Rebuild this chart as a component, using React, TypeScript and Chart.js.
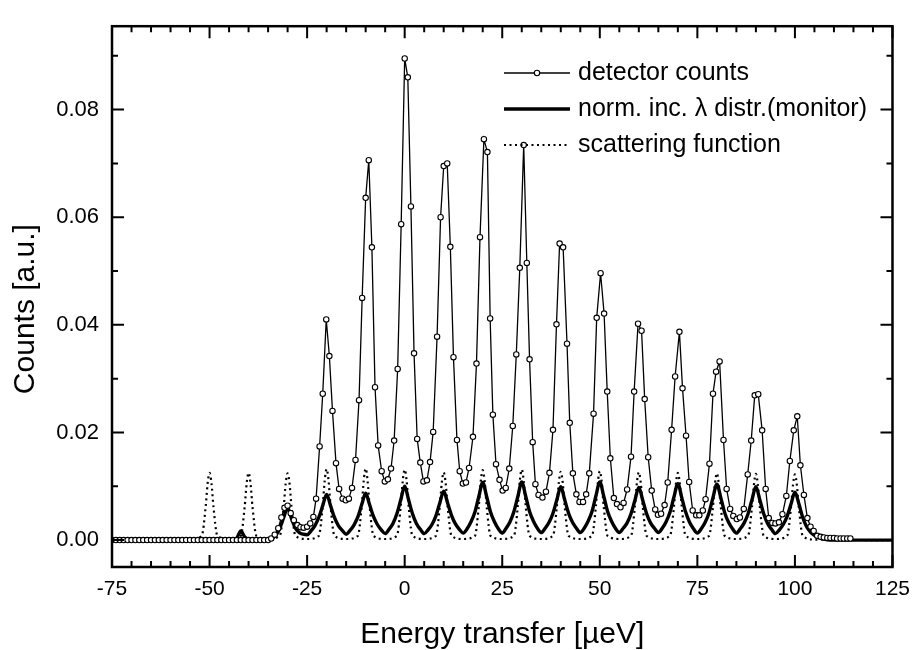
import React, { useEffect, useRef } from "react";
import { Chart, registerables } from "chart.js";

Chart.register(...registerables);

// ---------- axis settings ----------
const xRange: number[] = [-75, 125];
const yRange: number[] = [-0.005, 0.0955];
const xMajorStep = 25;
const xMinorStep = 5;
const yMajorStep = 0.02;
const yMinorStep = 0.01;

// ---------- texts ----------
const xAxisTitle = "Energy transfer [µeV]";
const yAxisTitle = "Counts [a.u.]";
const legendLabels: string[] = [
  "detector counts",
  "norm. inc. λ distr.(monitor)",
  "scattering function",
];

// ---------- series: [energy transfer (µeV), counts (a.u.)] ----------
const detectorCounts: [number, number][] = [
  [-75, 0], [-74, 0], [-73, 0], [-72, 0], [-71, 0], [-70, 0], [-69, 0], [-68, 0], [-67, 0], [-66, 0],
  [-65, 0], [-64, 0], [-63, 0], [-62, 0], [-61, 0], [-60, 0], [-59, 0], [-58, 0], [-57, 0], [-56, 0],
  [-55, 0], [-54, 0], [-53, 0], [-52, 0], [-51, 0], [-50, 0], [-49, 0], [-48, 0], [-47, 0], [-46, 0],
  [-45, 0], [-44, 0], [-43, 0], [-42, 0], [-41, 0], [-40, 0], [-39, 0], [-38, 0], [-37, 0], [-36, 0],
  [-35, 0], [-34.2, 0.0003], [-33.3, 0.001], [-32.4, 0.0022], [-31.6, 0.0042], [-30.8, 0.006],
  [-30.0, 0.0064], [-29.2, 0.005], [-28.4, 0.0037], [-27.5, 0.0028], [-26.7, 0.0024], [-25.9, 0.0023],
  [-25.0, 0.0025], [-24.2, 0.0031], [-23.4, 0.0043], [-22.7, 0.0077], [-21.8, 0.0174], [-21.0, 0.0272],
  [-20.1, 0.041], [-19.3, 0.0342], [-18.5, 0.024], [-17.6, 0.0143], [-16.8, 0.0095], [-15.9, 0.0077],
  [-15.1, 0.0074], [-14.3, 0.0077], [-13.5, 0.0097], [-12.6, 0.0149], [-11.7, 0.026], [-10.9, 0.045],
  [-10.0, 0.0636], [-9.2, 0.0706], [-8.4, 0.0544], [-7.6, 0.0284], [-6.8, 0.0176], [-5.9, 0.0128],
  [-5.1, 0.0109], [-4.3, 0.0113], [-3.5, 0.0133], [-2.7, 0.0185], [-1.8, 0.0318], [-0.9, 0.0587],
  [0.0, 0.0895], [0.8, 0.086], [1.6, 0.062], [2.4, 0.0347], [3.2, 0.0188], [4.0, 0.0144],
  [4.8, 0.0109], [5.7, 0.0111], [6.5, 0.0145], [7.3, 0.0201], [8.3, 0.0378], [9.2, 0.06],
  [10.0, 0.0695], [10.9, 0.07], [11.7, 0.0545], [12.5, 0.034], [13.4, 0.0186], [14.1, 0.0128],
  [14.9, 0.0105], [15.7, 0.0107], [16.5, 0.0134], [17.5, 0.0192], [18.4, 0.0328], [19.3, 0.0563],
  [20.3, 0.0745], [21.2, 0.0721], [21.9, 0.0412], [22.6, 0.0233], [23.4, 0.0141], [24.3, 0.0112],
  [25.1, 0.0092], [25.9, 0.0097], [26.8, 0.0133], [27.7, 0.0212], [28.6, 0.0345], [29.5, 0.0506],
  [30.5, 0.0734], [31.3, 0.0515], [32.0, 0.0336], [32.8, 0.0182], [33.5, 0.0104], [34.3, 0.0084],
  [35.3, 0.0079], [36.2, 0.009], [37.1, 0.0125], [38.0, 0.0205], [38.9, 0.0401], [39.7, 0.0551],
  [40.6, 0.0544], [41.6, 0.0365], [42.3, 0.0218], [43.1, 0.0124], [44.0, 0.0085], [44.8, 0.0071],
  [45.7, 0.0071], [46.5, 0.0085], [47.3, 0.0124], [48.4, 0.0235], [49.2, 0.0413], [50.2, 0.0496],
  [51.1, 0.0421], [51.9, 0.0276], [52.7, 0.0152], [53.6, 0.0078], [54.4, 0.0067], [55.3, 0.0061],
  [56.1, 0.0069], [57.0, 0.0094], [58.0, 0.0155], [58.8, 0.0276], [59.8, 0.0402], [60.7, 0.0389],
  [61.5, 0.0262], [62.4, 0.0154], [63.3, 0.0092], [64.2, 0.0057], [64.9, 0.0047], [65.7, 0.0049],
  [66.6, 0.0065], [67.4, 0.0107], [68.4, 0.0205], [69.3, 0.0304], [70.4, 0.0387], [71.2, 0.0282],
  [72.1, 0.0194], [72.9, 0.0108], [73.8, 0.0055], [74.7, 0.0046], [75.5, 0.0046], [76.4, 0.0055],
  [77.1, 0.0076], [78.1, 0.0142], [79.0, 0.0272], [79.8, 0.0313], [80.7, 0.0332], [81.7, 0.0186],
  [82.5, 0.0095], [83.4, 0.0058], [84.2, 0.0045], [85.1, 0.0039], [85.9, 0.0042], [86.9, 0.0058],
  [87.9, 0.0122], [88.8, 0.0185], [89.7, 0.0269], [90.6, 0.0271], [91.6, 0.0204], [92.5, 0.0095],
  [93.3, 0.0041], [94.2, 0.0032], [95.0, 0.0031], [95.9, 0.0033], [96.8, 0.0048], [97.8, 0.0082],
  [98.7, 0.0147], [99.7, 0.0204], [100.6, 0.023], [101.4, 0.0139], [102.3, 0.0084], [103.2, 0.0041],
  [104.0, 0.0025], [104.8, 0.0017], [105.7, 0.0008], [106.6, 0.0006], [107.4, 0.0005], [108.3, 0.0004],
  [109.1, 0.0004], [110.0, 0.0004], [110.8, 0.0003], [111.7, 0.0003], [112.5, 0.0003], [113.4, 0.0003],
  [114.2, 0.0003],
];

const monitorDistribution: [number, number][] = [
  [-75, 0], [-44, 0], [-43, 0.0004], [-42, 0.0017], [-41, 0.0006], [-40, 0.0001], [-39, 0], [-35, 0],
  [-34, 0.0003], [-33, 0.0009], [-32, 0.0022], [-31, 0.0042], [-30, 0.006], [-29, 0.004], [-28, 0.0022], [-27, 0.0014], [-26, 0.0011], [-25, 0.001],
  [-24, 0.0017], [-23, 0.0027], [-22, 0.0042], [-21, 0.0064], [-20, 0.0085], [-19, 0.0064], [-18, 0.0042], [-17, 0.0027], [-16, 0.0018], [-15, 0.0011],
  [-14, 0.0018], [-13, 0.0028], [-12, 0.0043], [-11, 0.0066], [-10, 0.0087], [-9, 0.0066], [-8, 0.0044], [-7, 0.0029], [-6, 0.0019], [-5, 0.0012],
  [-4, 0.002], [-3, 0.0031], [-2, 0.0049], [-1, 0.0075], [0, 0.01], [1, 0.0075], [2, 0.0049], [3, 0.0031], [4, 0.002], [5, 0.0012],
  [6, 0.0019], [7, 0.0029], [8, 0.0045], [9, 0.0069], [10, 0.0091], [11, 0.0069], [12, 0.0046], [13, 0.003], [14, 0.002], [15, 0.0013],
  [16, 0.0021], [17, 0.0034], [18, 0.0052], [19, 0.0081], [20, 0.0107], [21, 0.0081], [22, 0.0052], [23, 0.0034], [24, 0.0021], [25, 0.0013],
  [26, 0.0022], [27, 0.0034], [28, 0.0053], [29, 0.0081], [30, 0.0108], [31, 0.0082], [32, 0.0053], [33, 0.0035], [34, 0.0022], [35, 0.0014],
  [36, 0.0022], [37, 0.0033], [38, 0.005], [39, 0.0075], [40, 0.0099], [41, 0.0075], [42, 0.005], [43, 0.0033], [44, 0.0022], [45, 0.0014],
  [46, 0.0022], [47, 0.0035], [48, 0.0053], [49, 0.0082], [50, 0.0108], [51, 0.0082], [52, 0.0053], [53, 0.0035], [54, 0.0022], [55, 0.0014],
  [56, 0.0022], [57, 0.0032], [58, 0.0049], [59, 0.0074], [60, 0.0098], [61, 0.0074], [62, 0.0049], [63, 0.0032], [64, 0.0022], [65, 0.0014],
  [66, 0.0022], [67, 0.0034], [68, 0.0052], [69, 0.008], [70, 0.0105], [71, 0.0079], [72, 0.0052], [73, 0.0033], [74, 0.0021], [75, 0.0013],
  [76, 0.0021], [77, 0.0033], [78, 0.0051], [79, 0.0079], [80, 0.0104], [81, 0.0079], [82, 0.0051], [83, 0.0033], [84, 0.0021], [85, 0.0013],
  [86, 0.0021], [87, 0.0032], [88, 0.0049], [89, 0.0075], [90, 0.0099], [91, 0.0075], [92, 0.0049], [93, 0.0031], [94, 0.002], [95, 0.0012],
  [96, 0.0019], [97, 0.0029], [98, 0.0044], [99, 0.0067], [100, 0.0089], [101, 0.0068], [102, 0.0042], [103, 0.0025], [104, 0.0015], [105, 0.0009],
  [106, 0.0005], [107, 0.0003], [108, 0.0001], [110, 0], [125, 0],
];

const scatteringFunction: [number, number][] = [
  [-75, 0], [-55, 0.0001],
  [-52, 0.0008], [-51, 0.0062], [-50.5, 0.0105], [-50, 0.0125], [-49.5, 0.0105], [-49, 0.0062], [-48, 0.0008], [-45, 0.0002],
  [-42, 0.0008], [-41, 0.0062], [-40.5, 0.0105], [-40, 0.0125], [-39.5, 0.0105], [-39, 0.0062], [-38, 0.0008], [-35, 0.0002],
  [-32, 0.0008], [-31, 0.0062], [-30.5, 0.0105], [-30, 0.0124], [-29.5, 0.0105], [-29, 0.0062], [-28, 0.0008], [-25, 0.0002],
  [-22, 0.0008], [-21, 0.0064], [-20.5, 0.011], [-20, 0.0132], [-19.5, 0.011], [-19, 0.0064], [-18, 0.0008], [-15, 0.0002],
  [-12, 0.0008], [-11, 0.0064], [-10.5, 0.011], [-10, 0.0133], [-9.5, 0.011], [-9, 0.0064], [-8, 0.0008], [-5, 0.0002],
  [-2, 0.0008], [-1, 0.0064], [-0.5, 0.011], [0, 0.0131], [0.5, 0.011], [1, 0.0064], [2, 0.0008], [5, 0.0002],
  [8, 0.0008], [9, 0.0063], [9.5, 0.0106], [10, 0.0126], [10.5, 0.0106], [11, 0.0063], [12, 0.0008], [15, 0.0002],
  [18, 0.0008], [19, 0.0064], [19.5, 0.0109], [20, 0.013], [20.5, 0.0109], [21, 0.0064], [22, 0.0008], [25, 0.0002],
  [28, 0.0008], [29, 0.0064], [29.5, 0.011], [30, 0.0131], [30.5, 0.011], [31, 0.0064], [32, 0.0008], [35, 0.0002],
  [38, 0.0008], [39, 0.0063], [39.5, 0.0107], [40, 0.0127], [40.5, 0.0107], [41, 0.0063], [42, 0.0008], [45, 0.0002],
  [48, 0.0008], [49, 0.0063], [49.5, 0.0107], [50, 0.0128], [50.5, 0.0107], [51, 0.0063], [52, 0.0008], [55, 0.0002],
  [58, 0.0008], [59, 0.0063], [59.5, 0.0106], [60, 0.0126], [60.5, 0.0106], [61, 0.0063], [62, 0.0008], [65, 0.0002],
  [68, 0.0008], [69, 0.0062], [69.5, 0.0105], [70, 0.0125], [70.5, 0.0105], [71, 0.0062], [72, 0.0008], [75, 0.0002],
  [78, 0.0008], [79, 0.0062], [79.5, 0.0104], [80, 0.0124], [80.5, 0.0104], [81, 0.0062], [82, 0.0008], [85, 0.0002],
  [88, 0.0008], [89, 0.0062], [89.5, 0.0103], [90, 0.0123], [90.5, 0.0103], [91, 0.0062], [92, 0.0008], [95, 0.0002],
  [98, 0.0008], [99, 0.0061], [99.5, 0.0102], [100, 0.0122], [100.5, 0.0102], [101, 0.0061], [102, 0.0008], [105, 0.0001],
  [125, 0],
];

const FONT = "'Liberation Sans', Arial, Helvetica, sans-serif";

const toXY = (pts: [number, number][]) => pts.map(([x, y]) => ({ x, y }));

const frameTicksPlugin = {
  id: "frameTicks",
  afterDatasetsDraw(chart: any) {
    const { ctx, chartArea: a, scales } = chart;
    const xs = scales.x;
    const ys = scales.y;
    ctx.save();
    ctx.strokeStyle = "#000";
    ctx.lineWidth = 2;
    ctx.beginPath();
    const nx = Math.round((xRange[1] - xRange[0]) / xMinorStep);
    const perMajorX = Math.round(xMajorStep / xMinorStep);
    for (let k = 0; k <= nx; k++) {
      const v = xRange[0] + k * xMinorStep;
      const len = k % perMajorX === 0 ? 12 : 6;
      const px = xs.getPixelForValue(v);
      ctx.moveTo(px, a.bottom);
      ctx.lineTo(px, a.bottom - len);
      ctx.moveTo(px, a.top);
      ctx.lineTo(px, a.top + len);
    }
    const perMajorY = Math.round(yMajorStep / yMinorStep);
    for (let k = 0; k * yMinorStep <= yRange[1]; k++) {
      const v = k * yMinorStep;
      const len = k % perMajorY === 0 ? 12 : 6;
      const py = ys.getPixelForValue(v);
      ctx.moveTo(a.left, py);
      ctx.lineTo(a.left + len, py);
      ctx.moveTo(a.right, py);
      ctx.lineTo(a.right - len, py);
    }
    ctx.stroke();
    ctx.lineWidth = 2.5;
    ctx.strokeRect(a.left, a.top, a.right - a.left, a.bottom - a.top);
    ctx.restore();
  },
};

const insetLegendPlugin = {
  id: "insetLegend",
  afterDraw(chart: any) {
    const { ctx } = chart;
    const x0 = 504;
    const x1 = 570;
    const tx = 578;
    const rows = [73, 109, 145];
    ctx.save();
    ctx.strokeStyle = "#000";
    ctx.fillStyle = "#000";
    // detector counts
    ctx.lineWidth = 1.3;
    ctx.beginPath();
    ctx.moveTo(x0, rows[0]);
    ctx.lineTo(x1, rows[0]);
    ctx.stroke();
    ctx.beginPath();
    ctx.arc((x0 + x1) / 2, rows[0], 2.7, 0, Math.PI * 2);
    ctx.fillStyle = "#fff";
    ctx.fill();
    ctx.lineWidth = 1.1;
    ctx.stroke();
    // monitor
    ctx.lineWidth = 3.4;
    ctx.beginPath();
    ctx.moveTo(x0, rows[1]);
    ctx.lineTo(x1, rows[1]);
    ctx.stroke();
    // scattering function
    ctx.lineWidth = 2.2;
    ctx.setLineDash([2, 3.5]);
    ctx.beginPath();
    ctx.moveTo(x0, rows[2]);
    ctx.lineTo(x1, rows[2]);
    ctx.stroke();
    ctx.setLineDash([]);
    ctx.fillStyle = "#000";
    ctx.font = `25px ${FONT}`;
    ctx.textBaseline = "middle";
    ctx.textAlign = "left";
    legendLabels.forEach((t, i) => ctx.fillText(t, tx, rows[i]));
    ctx.restore();
  },
};

export default function App() {
  const canvasRef = useRef<HTMLCanvasElement | null>(null);

  useEffect(() => {
    const canvas = canvasRef.current;
    if (!canvas) return;
    const chart = new Chart(canvas, {
      type: "line",
      data: {
        datasets: [
          {
            label: legendLabels[0],
            data: toXY(detectorCounts),
            borderColor: "#000",
            borderWidth: 1.3,
            pointRadius: 2.7,
            pointBorderWidth: 1.1,
            pointBackgroundColor: "#fff",
            pointBorderColor: "#000",
            tension: 0,
            fill: false,
          },
          {
            label: legendLabels[1],
            data: toXY(monitorDistribution),
            borderColor: "#000",
            borderWidth: 3.4,
            pointRadius: 0,
            cubicInterpolationMode: "monotone",
            fill: false,
          },
          {
            label: legendLabels[2],
            data: toXY(scatteringFunction),
            borderColor: "#000",
            borderWidth: 2.2,
            borderDash: [2, 3.5],
            pointRadius: 0,
            cubicInterpolationMode: "monotone",
            fill: false,
          },
        ],
      } as any,
      options: {
        animation: false,
        responsive: false,
        devicePixelRatio: 1,
        layout: { padding: { left: 0, right: 18, top: 13, bottom: 0 }, autoPadding: false },
        plugins: { legend: { display: false }, tooltip: { enabled: false } },
        scales: {
          x: {
            type: "linear",
            min: xRange[0],
            max: xRange[1],
            afterFit: (s: any) => {
              s.height = 83;
            },
            grid: { display: false, drawTicks: false },
            border: { display: false },
            ticks: {
              stepSize: xMajorStep,
              includeBounds: false,
              padding: 10,
              color: "#000",
              maxRotation: 0,
              autoSkip: false,
              font: { family: FONT, size: 21 },
              callback: (v: any) => String(Math.round(Number(v))),
            },
            title: {
              display: true,
              text: xAxisTitle,
              color: "#000",
              font: { family: FONT, size: 30, lineHeight: 1 },
              padding: { top: 0, bottom: 0 },
            },
          },
          y: {
            type: "linear",
            min: yRange[0],
            max: yRange[1],
            afterFit: (s: any) => {
              s.width = 112;
            },
            grid: { display: false, drawTicks: false },
            border: { display: false },
            ticks: {
              stepSize: yMajorStep,
              includeBounds: false,
              padding: 13,
              color: "#000",
              font: { family: FONT, size: 22 },
              callback: (v: any) => {
                const n = Math.abs(Number(v)) < 1e-9 ? 0 : Number(v);
                return n.toFixed(2);
              },
            },
            title: {
              display: true,
              text: yAxisTitle + "   ",
              color: "#000",
              font: { family: FONT, size: 30, lineHeight: 1 },
              padding: { top: 11, bottom: 0 },
            },
          },
        },
      } as any,
      plugins: [frameTicksPlugin, insetLegendPlugin],
    });
    return () => chart.destroy();
  }, []);

  return (
    <div style={{ position: "fixed", left: 0, top: 0, width: 920, height: 650, background: "#fff" }}>
      <canvas ref={canvasRef} width={920} height={650} style={{ width: 920, height: 650, display: "block" }} />
    </div>
  );
}
